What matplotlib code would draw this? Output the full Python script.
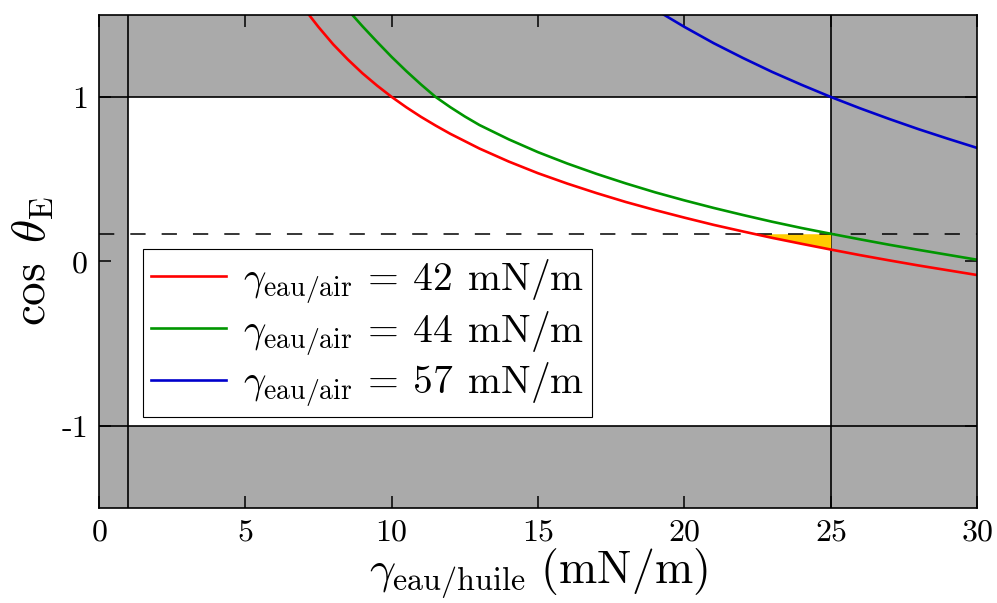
import matplotlib
matplotlib.use("Agg")
import matplotlib.pyplot as plt
import numpy as np

plt.rcParams['mathtext.fontset'] = 'cm'
plt.rcParams['font.family'] = 'cmr10'
plt.rcParams['axes.unicode_minus'] = False
plt.rcParams['axes.formatter.use_mathtext'] = True

# values
red_x = [7.15, 7.5, 8.0, 8.5, 9.0, 9.5, 10.0, 10.5, 11.0, 11.5, 12.0, 13.0, 14.0, 15.0,
         16.0, 17.0, 18.0, 19.0, 20.0, 21.0, 22.0, 23.0, 24.0, 25.0, 26.0, 27.0, 28.0,
         29.0, 30.0]
red_y = [1.505, 1.425, 1.320, 1.228, 1.144, 1.069, 1.000, 0.937, 0.879, 0.826, 0.776,
         0.686, 0.607, 0.536, 0.473, 0.415, 0.361, 0.312, 0.266, 0.222, 0.182, 0.143,
         0.107, 0.072, 0.038, 0.006, -0.025, -0.054, -0.083]

green_x = [8.65, 9.0, 9.5, 10.0, 10.5, 11.0, 11.5, 12.0, 12.5, 13.0, 14.0, 15.0, 16.0,
           17.0, 18.0, 19.0, 20.0, 21.0, 22.0, 23.0, 24.0, 25.0, 26.0, 27.0, 28.0, 29.0,
           30.0]
green_y = [1.50, 1.43, 1.335, 1.243, 1.157, 1.076, 1.0, 0.938, 0.881, 0.829, 0.742,
           0.664, 0.595, 0.532, 0.474, 0.420, 0.371, 0.325, 0.282, 0.241, 0.203, 0.168,
           0.134, 0.101, 0.070, 0.040, 0.010]

blue_x = [19.3, 20.0, 21.0, 22.0, 23.0, 24.0, 25.0, 26.0, 27.0, 28.0, 29.0, 30.0]
blue_y = [1.500, 1.426, 1.327, 1.237, 1.152, 1.074, 1.000, 0.931, 0.866, 0.804, 0.746,
          0.690]

gamma_air = [42, 44, 57]
line_colors = ['#ff0000', '#009600', '#0000cc']

# allowed region and the dashed level
x_lo, x_hi = 1, 25
y_lo, y_hi = -1, 1
dash_level = 0.168

x_ticks = [0, 5, 10, 15, 20, 25, 30]
y_ticks = [-1, 0, 1]
y_tick_labels = ['-1', '0', '1']

fig = plt.figure(figsize=(9.97, 6.03), dpi=100)
ax = fig.add_axes([0.0993, 0.1575, 0.8807, 0.8181])
ax.set_facecolor('#aaaaaa')

ax.fill_between([x_lo, x_hi], y_lo, y_hi, color='white', lw=0, zorder=1)
for yv in (y_lo, y_hi):
    ax.axhline(yv, color='k', lw=1.2, zorder=2)
for xv in (x_lo, x_hi):
    ax.axvline(xv, color='k', lw=1.2, zorder=2)

# yellow wedge between the dashed line and the red curve, up to x = 25
rx = np.array(red_x)
ry = np.array(red_y)
sel = (rx >= 22) & (rx <= x_hi)
ax.fill_between(rx[sel], ry[sel], dash_level, where=ry[sel] <= dash_level,
                interpolate=True, color='#ffcc00', lw=0, zorder=2)

ax.axhline(dash_level, color='k', lw=1.1, linestyle=(0, (10, 10.5)), zorder=3)

series = [(red_x, red_y), (green_x, green_y), (blue_x, blue_y)]
for (xs, ys), g, c in zip(series, gamma_air, line_colors):
    ax.plot(xs, ys, color=c, lw=1.9, zorder=4,
            label=r'$\gamma_{\rm eau/air}\hspace{0.2}=\hspace{0.2}%d\hspace{0.45}{\rm mN/m}$' % g)

ax.set_xlim(0, 30)
ax.set_ylim(-1.5, 1.5)
ax.set_xticks(x_ticks)
ax.set_yticks(y_ticks)
ax.set_yticklabels(y_tick_labels)
ax.tick_params(direction='in', length=8.6, width=1.1, top=True, right=True,
               labelsize=23, pad=8)
for s in ax.spines.values():
    s.set_linewidth(1.2)
    s.set_zorder(5)

ax.set_xlabel(r'$\gamma_{\rm eau/huile}\ ({\rm mN/m})$', fontsize=33, labelpad=0)
ax.set_ylabel(r'$\cos\ \theta_{\rm E}$', fontsize=34, labelpad=4)

leg = ax.legend(loc='upper left', bbox_to_anchor=(0.05, 0.525), borderaxespad=0,
                fontsize=28.5, fancybox=False, framealpha=1, edgecolor='k',
                handlelength=1.9, handletextpad=0.42, labelspacing=0.08,
                borderpad=0.2)
leg.get_frame().set_linewidth(0.8)
leg.set_zorder(6)

fig.savefig('out.png', dpi=100)
